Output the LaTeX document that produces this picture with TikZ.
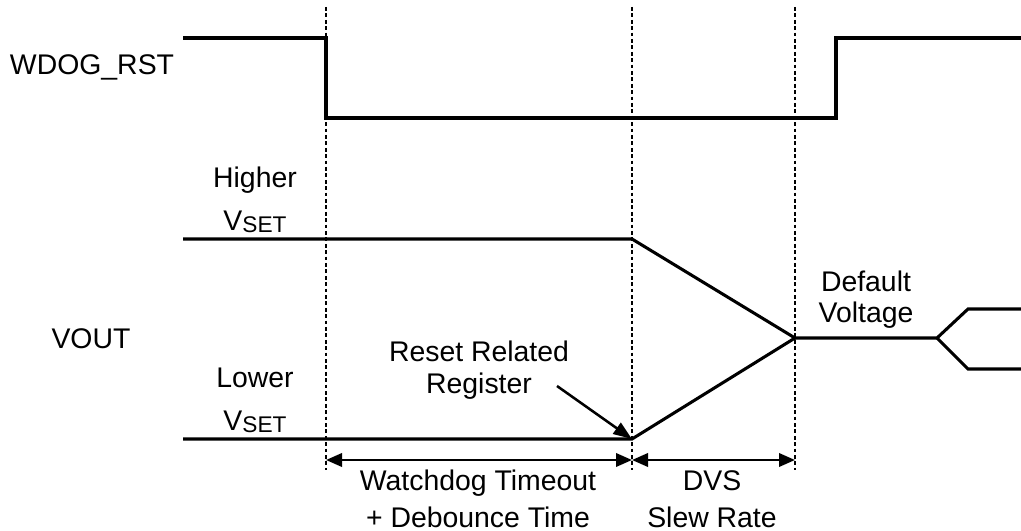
\documentclass[tikz,border=0pt]{standalone}
\usepackage{fontspec}
\setmainfont{Liberation Sans}
\usetikzlibrary{arrows.meta}

\newcommand{\vset}{V\raisebox{-2pt}{\fontsize{17}{20}\selectfont SET}}

\begin{document}
\begin{tikzpicture}[x=0.75pt,y=-0.75pt]
  \tikzstyle{sig}=[line width=2.3pt,line join=miter]
  \tikzstyle{guide}=[line width=2.1pt,dash pattern=on 2.8pt off 2pt]
  \tikzstyle{lbl}=[font=\fontsize{21.3}{24}\selectfont,inner sep=0pt,align=center,anchor=base]
  \tikzstyle{dim}=[{Triangle[length=12pt,width=10pt]}-{Triangle[length=12pt,width=10pt]},line width=1.9pt]
  \tikzstyle{ptr}=[-{Triangle[length=14pt,width=10pt]},line width=1.9pt]

  \useasboundingbox (0,0) rectangle (1021,531);

  % phase boundaries
  \coordinate (wdtop) at (326,7);   \coordinate (wdbot) at (326,470);
  \coordinate (dvtop) at (632,7);   \coordinate (dvbot) at (632,470);
  \coordinate (dftop) at (795,7);   \coordinate (dfbot) at (795,470);
  \draw[guide] (wdtop) -- (wdbot);
  \draw[guide] (dvtop) -- (dvbot);
  \draw[guide] (dftop) -- (dfbot);

  % WDOG_RST
  \node[lbl] (wdog) at (92,75) {WDOG\_RST};
  \draw[sig] (183,38) -- (326,38) -- (326,118) -- (836,118) -- (836,38) -- (1021,38);

  % VOUT (multi-line labels sit on their last baseline)
  \node[lbl] (vout) at (91,348) {VOUT};
  \node[lbl,font=\fontsize{21.3}{32}\selectfont] (hi) at (255,230) {Higher\\\vset};
  \node[lbl,font=\fontsize{21.3}{32}\selectfont] (lo) at (255,430) {Lower\\\vset};
  \coordinate (hiend) at (632,239);
  \coordinate (loend) at (632,439);
  \coordinate (dflt) at (795,338);
  \coordinate (fork) at (937,338);
  \draw[sig] (183,239) -- (hiend) -- (dflt) -- (fork) -- (968,309) -- (1021,309);
  \draw[sig] (183,439) -- (loend) -- (dflt);
  \draw[sig] (fork) -- (968,369) -- (1021,369);
  \node[lbl,font=\fontsize{21.3}{23}\selectfont] (dv) at (866,322) {Default\\Voltage};

  % reset pointer
  \node[lbl,font=\fontsize{21.3}{23.5}\selectfont] (reg) at (479,393) {Reset Related\\Register};
  \coordinate (regtail) at (557,386);
  \draw[ptr] (regtail) -- (loend);

  % durations
  \draw[dim] (326,460) -- (632,460);
  \draw[dim] (632,460) -- (795,460);
  \node[lbl,font=\fontsize{21.3}{27.75}\selectfont] (wdt) at (478,527) {Watchdog Timeout\\+ Debounce Time};
  \node[lbl,font=\fontsize{21.3}{27.75}\selectfont] (dvs) at (712,527) {DVS\\Slew Rate};
\end{tikzpicture}
\end{document}
